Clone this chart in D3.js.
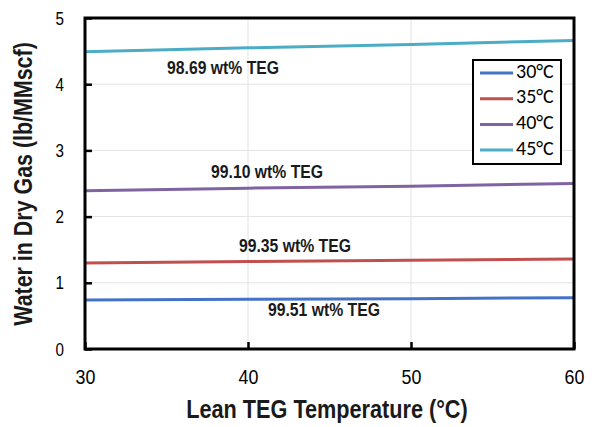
<!DOCTYPE html>
<html><head><meta charset="utf-8">
<script src="https://cdn.jsdelivr.net/npm/d3@7"></script>
<style>body{margin:0;background:#fff}</style>
</head><body>
<svg id="c" width="595" height="427"></svg>
<script>
const temps = [30, 40, 50, 60];
const seriesNames = ["30°C", "35°C", "40°C", "45°C"];
const s30 = [0.74, 0.75, 0.76, 0.775];
const s35 = [1.30, 1.32, 1.34, 1.36];
const s40 = [2.39, 2.43, 2.46, 2.50];
const s45 = [4.49, 4.55, 4.60, 4.66];
const colors = ["#4472C4", "#C0504D", "#8064A2", "#4BACC6"];
const xTicks = [30, 40, 50, 60];
const yTicks = [0, 1, 2, 3, 4, 5];
const annLabels = ["99.51 wt% TEG", "99.35 wt% TEG", "99.10 wt% TEG", "98.69 wt% TEG"];
const annPos = [[44.66, 0.574], [42.88, 1.54], [41.17, 2.66], [38.47, 4.23]];

const series = [s30, s35, s40, s45];
const svg = d3.select("#c");
const L = 85, R = 574, T = 18, B = 349;
const x = d3.scaleLinear().domain([30, 60]).range([L, R]);
const y = d3.scaleLinear().domain([0, 5]).range([B, T]);
const font = "'Liberation Sans', Arial, sans-serif";

// grid
svg.append("g").selectAll("line").data(yTicks.slice(1)).join("line")
  .attr("x1", L).attr("x2", R).attr("y1", d => y(d)).attr("y2", d => y(d))
  .attr("stroke", "#e3e3e3").attr("stroke-width", 1);
svg.append("g").selectAll("line").data(xTicks.slice(1)).join("line")
  .attr("y1", T).attr("y2", B).attr("x1", d => x(d)).attr("x2", d => x(d))
  .attr("stroke", "#e3e3e3").attr("stroke-width", 1);

// lines
const line = d3.line().x((d, i) => x(temps[i])).y(d => y(d));
series.forEach((s, i) => {
  svg.append("path").datum(s).attr("d", line).attr("fill", "none")
    .attr("stroke", colors[i]).attr("stroke-width", 3);
});

// frame
svg.append("rect").attr("x", L).attr("y", T).attr("width", R - L).attr("height", B - T)
  .attr("fill", "none").attr("stroke", "#000").attr("stroke-width", 3);

// axes
const ySx = 0.8;
const yAxis = d3.axisLeft(y).tickValues(yTicks).tickSize(-7).tickPadding(21).tickFormat(d3.format("d"));
const gy = svg.append("g").attr("transform", `translate(${L},0)`).call(yAxis);
gy.select(".domain").remove();
gy.selectAll("line").attr("stroke", "#000").attr("stroke-width", 2.5);
gy.selectAll("text").attr("font-family", font).attr("font-size", 19).attr("fill", "#000")
  .attr("x", -21 / ySx).attr("transform", `scale(${ySx},1)`);

const xSx = 0.85;
const xAxis = d3.axisBottom(x).tickValues(xTicks).tickSize(-7).tickPadding(20).tickFormat(d3.format("d"));
const gx = svg.append("g").attr("transform", `translate(0,${B})`).call(xAxis);
gx.select(".domain").remove();
gx.selectAll("line").attr("stroke", "#000").attr("stroke-width", 2.5);
gx.selectAll("text").attr("font-family", font).attr("font-size", 21).attr("fill", "#000")
  .attr("transform", `scale(${xSx},1)`);

// annotations
svg.append("g").selectAll("text").data(annLabels).join("text")
  .attr("transform", (d, i) => `translate(${x(annPos[i][0])},${y(annPos[i][1])}) scale(0.83,1)`)
  .attr("text-anchor", "middle").attr("dominant-baseline", "middle")
  .attr("font-family", font).attr("font-weight", "bold").attr("font-size", 19)
  .attr("fill", "#1a1a1a").text(d => d);

// titles
svg.append("text").attr("transform", "translate(327,411) scale(0.867,1)")
  .attr("text-anchor", "middle").attr("dominant-baseline", "middle")
  .attr("font-family", font).attr("font-weight", "bold").attr("font-size", 25).attr("fill", "#1a1a1a")
  .text("Lean TEG Temperature (°C)");
svg.append("text").attr("transform", `translate(25,184) rotate(-90) scale(0.857,1)`)
  .attr("text-anchor", "middle").attr("dominant-baseline", "middle")
  .attr("font-family", font).attr("font-weight", "bold").attr("font-size", 25).attr("fill", "#1a1a1a")
  .text("Water in Dry Gas (lb/MMscf)");

// legend
const lg = svg.append("g");
lg.append("rect").attr("x", 473).attr("y", 60).attr("width", 88).attr("height", 104)
  .attr("fill", "#fff").attr("stroke", "#000").attr("stroke-width", 2);
seriesNames.forEach((n, i) => {
  const yy = 73 + i * 25.7;
  lg.append("line").attr("x1", 480).attr("x2", 513).attr("y1", yy).attr("y2", yy)
    .attr("stroke", colors[i]).attr("stroke-width", 3);
  lg.append("text").attr("x", 516).attr("y", yy).attr("dominant-baseline", "middle")
    .attr("font-family", "Carlito, Calibri, Lato, sans-serif").attr("font-size", 20).attr("fill", "#000").text(n);
});
</script>
</body></html>
